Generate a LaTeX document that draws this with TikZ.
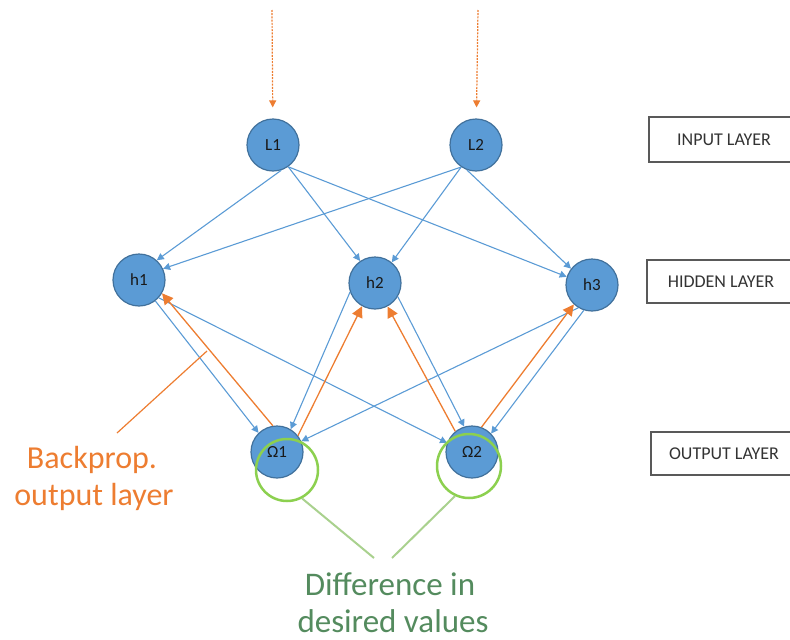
\documentclass[tikz,border=0pt]{standalone}
\usepackage{fontspec}
\setmainfont{Carlito}
\usetikzlibrary{arrows.meta}
\definecolor{nodeblue}{HTML}{5B9BD5}
\definecolor{nodeedge}{HTML}{41719C}
\definecolor{linkblue}{HTML}{5B9BD5}
\definecolor{bporange}{HTML}{ED7D31}
\definecolor{ringgreen}{HTML}{8CD04F}
\definecolor{leadgreen}{HTML}{A9D18E}
\definecolor{textgreen}{HTML}{548B5E}
\definecolor{boxgray}{HTML}{595959}
\begin{document}
\begin{tikzpicture}[x=1pt,y=-1pt,
  neuron/.style={circle,fill=nodeblue,draw=nodeedge,line width=1.2pt,minimum size=52pt,inner sep=0pt,
    font=\fontsize{17}{20}\selectfont,text=black!90},
  fwd/.style={draw=linkblue,line width=1.1pt,-{Triangle[length=7pt,width=7pt]}},
  back/.style={draw=bporange,line width=1.3pt,-{Triangle[length=11pt,width=11pt]}},
  inarrow/.style={draw=bporange,line width=1.2pt,dash pattern=on 2pt off 1.2pt,
    -{Triangle[length=7pt,width=7pt]},shorten >=11pt},
  layerbox/.style={draw=boxgray,line width=1.8pt,inner sep=0pt,
    font=\fontsize{18}{20}\selectfont,text=black!80},
  ring/.style={circle,draw=ringgreen,line width=2.5pt,inner sep=0pt},
  lead/.style={draw=leadgreen,line width=2pt},
  pointer/.style={draw=bporange,line width=1.2pt},
  bptext/.style={anchor=base,text=bporange,font=\fontsize{32}{37}\selectfont},
  difftext/.style={anchor=base,text=textgreen,font=\fontsize{33}{37}\selectfont}
]
\useasboundingbox (0,0) rectangle (790,640);
\clip (0,0) rectangle (790,640);

% neurons
\node[neuron] (L1) at (273,145) {L1};
\node[neuron] (L2) at (476,145) {L2};
\node[neuron] (h1) at (139,280) {h1};
\node[neuron] (h2) at (375,283) {h2};
\node[neuron] (h3) at (592,285) {h3};
\node[neuron] (O1) at (277,452) {Ω1};
\node[neuron] (O2) at (472,452) {Ω2};

% inputs
\coordinate (in1) at (272,10);
\coordinate (in2) at (478,10);
\draw[inarrow] (in1) -- (L1);
\draw[inarrow] (in2) -- (L2);

% forward connections
\draw[fwd] (L1.-72) -- (h1.48);
\draw[fwd] (L1.-55) -- (h2.124);
\draw[fwd] (L1.-55) -- (h3.162);
\draw[fwd] (L2.236) -- (h1.25);
\draw[fwd] (L2.236) -- (h2.51);
\draw[fwd] (L2.250) -- (h3.142);
\draw[fwd] (h1.-52) -- (O1.134);
\draw[fwd] (h1.-42) -- (O2.160);
\draw[fwd] (h2.200) -- (O1.59);
\draw[fwd] (h2.-31) -- (O2.107);
\draw[fwd] (h3.239) -- (O1.24);
\draw[fwd] (h3.252) -- (O2.44);

% backprop connections
\draw[back] (O1.99) -- (h1.-30);
\draw[back] (O1.38) -- (h2.241);
\draw[back] (O2.129) -- (h2.-62);
\draw[back] (O2.69) -- (h3.227);

% green rings
\node[ring,minimum size=62pt] (g1) at (287,470) {};
\node[ring,minimum size=64pt] (g2) at (469,466) {};

% layer boxes
\node[layerbox,minimum width=150pt,minimum height=45pt] (inbox) at (724,139.5) {INPUT LAYER};
\node[layerbox,minimum width=148pt,minimum height=43pt] (hidbox) at (721,281.5) {HIDDEN LAYER};
\node[layerbox,minimum width=146pt,minimum height=43pt] (outbox) at (724,453.5) {OUTPUT LAYER};

% backprop label
\node[bptext] (bpa) at (92,468) {Backprop.};
\node[bptext] (bpb) at (94,505) {output layer};
\coordinate (bp1) at (117,433);
\coordinate (bp2) at (207,351);
\draw[pointer] (bp1) -- (bp2);

% difference label
\node[difftext] (dfa) at (390,595) {Difference in};
\node[difftext] (dfb) at (393,632) {desired values};
\coordinate (d1) at (374,558);
\coordinate (d2) at (392,558);
\draw[lead] (g1.-62) -- (d1);
\draw[lead] (g2.-115) -- (d2);
\end{tikzpicture}
\end{document}
